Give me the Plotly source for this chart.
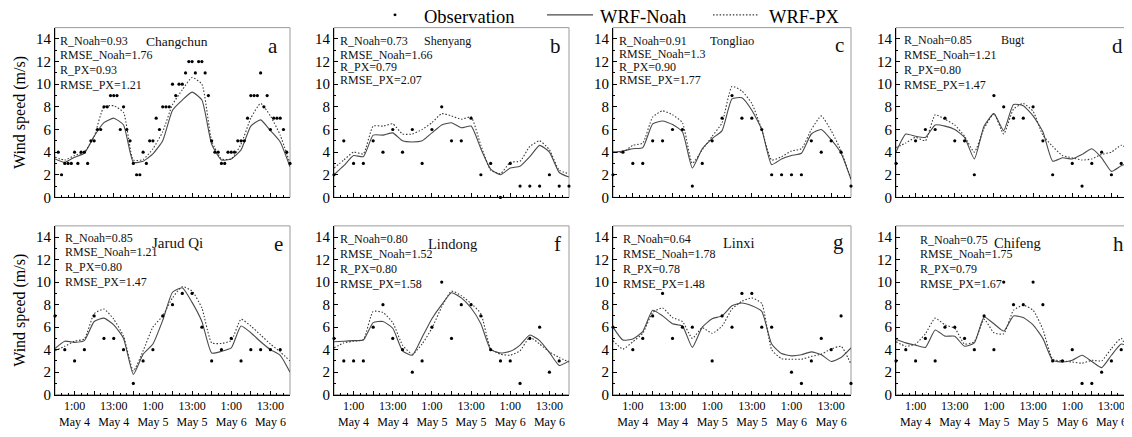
import plotly.graph_objects as go
from plotly.subplots import make_subplots

# ---------------- data ----------------
# hours since 19:00 May 3 (tick "1:00 May 4" = hour 6)
hours_hourly = list(range(0, 73))
hours_3h = list(range(0, 73, 3))
tick_hours = list(range(0, 73, 6))
tick_text = ["", "1:00<br>May 4", "", "13:00<br>May 4", "", "1:00<br>May 5", "",
             "13:00<br>May 5", "", "1:00<br>May 6", "", "13:00<br>May 6", ""]

stations = ["Changchun", "Shenyang", "Tongliao", "Bugt", "Jarud Qi", "Lindong", "Linxi", "Chifeng"]
letters = ["a", "b", "c", "d", "e", "f", "g", "h"]
r_noah = ["0.93", "0.73", "0.91", "0.85", "0.85", "0.80", "0.64", "0.75"]
rmse_noah = ["1.76", "1.66", "1.3", "1.21", "1.21", "1.52", "1.78", "1.75"]
r_px = ["0.93", "0.79", "0.90", "0.80", "0.80", "0.80", "0.78", "0.79"]
rmse_px = ["1.21", "2.07", "1.77", "1.47", "1.47", "1.58", "1.48", "1.67"]

# observations (Changchun hourly, others 3-hourly)
obs_changchun = [None, 4, 2, 3, 3, 3, 4, 3, 4, 4, 3, 5, 5, 6, 6, 8, 8, 9, 9, 9, 6, 8, 6, 5, 3,
                 2, 2, 4, 3, 5, 5, 7, 6, 8, 8, 8, 10, 9, 10, 10, 11, 12, 12, 11, 12, 12, 11, 9, 5,
                 4, 4, 3, 3, 4, 4, 4, 5, 5, 5, 7, 9, 9, 9, 11, 8, 9, 6, 7, 7, 7, 6, 4, 3]
obs_shenyang = [2, 5, 3, 3, 5, 4, 6, 4, 6, 3, 6, 8, 5, 5, 7, 2, 3, 0, 3, 1, 1, 1, 2, 1, 1]
obs_tongliao = [2, 4, 3, 3, 5, 5, 6, 6, 1, 3, 5, 7, 9, 7, 7, 6, 2, 2, 2, 2, 5, 4, 5, 4, 1]
obs_bugt = [3, None, 5, 6, 6, 7, 5, 5, 2, None, 9, 8, 7, 7, 8, 5, 2, None, 3, 1, 3, 4, 2, 3, None]
obs_jarud = [7, 4, 3, 4, 7, 5, 5, 4, 1, 3, 4, 7, 8, 9, 9, 6, 3, 4, 5, 3, 4, 4, 4, 4, None]
obs_lindong = [5, 3, 3, 3, 6, 8, 5, 4, 2, 3, 6, 10, 5, 8, 8, 7, 4, 3, 3, 1, 5, 6, 2, 3, None]
obs_linxi = [6, None, 4, 5, 7, 9, 5, 6, 6, None, 3, 7, 6, 9, 9, 6, 6, None, 2, 1, 3, 5, 4, 7, 1]
obs_chifeng = [3, 4, 3, 5, 3, 6, 6, 5, 4, 7, 4, 10, 8, 8, 10, 8, 3, 3, 4, 1, 1, 2, 3, 4, None]

# WRF-Noah (3-hourly)
noah_changchun = [3.4, 3.1, 3.55, 3.9, 5.4, 6.6, 7.0, 6.4, 3.1, 3.2, 3.85, 5.0, 7.7, 8.6, 9.3, 8.6, 4.7, 3.3, 3.4, 4.2, 6.3, 6.85, 5.9, 4.9, 2.7]
noah_shenyang = [2.0, 2.8, 3.7, 3.6, 5.5, 5.5, 5.7, 5.0, 4.9, 5.0, 5.7, 6.4, 6.6, 6.15, 6.3, 4.3, 2.5, 2.0, 2.6, 2.75, 3.6, 4.6, 4.0, 2.2, 1.8]
noah_tongliao = [4.0, 4.1, 4.3, 4.4, 6.5, 6.75, 6.45, 5.8, 2.6, 4.3, 5.2, 5.9, 8.7, 8.8, 7.7, 6.0, 2.9, 3.4, 3.7, 3.9, 5.6, 6.0, 5.1, 3.9, 1.6]
noah_bugt = [4.0, 5.6, 5.4, 5.3, 6.4, 6.3, 6.0, 5.3, 3.4, 6.3, 7.4, 5.9, 8.2, 8.1, 7.2, 5.8, 3.2, 3.5, 3.4, 3.8, 4.3, 3.5, 2.3, 2.8, 3.1]
noah_jarud = [4.1, 4.75, 4.65, 4.8, 6.5, 6.8, 6.2, 5.0, 1.8, 3.6, 4.5, 6.6, 9.1, 9.5, 8.2, 6.5, 3.7, 3.85, 4.15, 6.1, 5.5, 4.7, 4.0, 3.5, 2.0]
noah_lindong = [4.7, 4.75, 4.8, 4.85, 6.4, 6.5, 5.9, 3.9, 3.5, 5.1, 6.75, 8.0, 9.05, 8.6, 7.7, 6.3, 4.0, 3.7, 3.85, 4.4, 5.3, 4.8, 3.75, 2.6, 3.0]
noah_linxi = [6.0, 4.85, 4.95, 5.6, 7.5, 7.0, 6.3, 6.1, 4.2, 6.0, 6.75, 7.0, 7.9, 8.15, 7.9, 7.4, 4.5, 3.65, 3.45, 3.55, 3.8, 3.55, 2.95, 3.3, 4.15]
noah_chifeng = [4.9, 4.6, 4.4, 4.2, 5.75, 5.2, 5.2, 4.3, 4.6, 6.9, 6.3, 5.65, 7.0, 6.85, 6.2, 5.0, 3.05, 2.9, 3.05, 3.5, 2.95, 2.4, 3.5, 4.5, 4.2]

# WRF-PX (3-hourly)
px_changchun = [3.55, 3.3, 3.7, 4.0, 5.4, 8.0, 8.1, 7.5, 3.3, 3.35, 4.3, 5.8, 8.2, 9.5, 10.6, 10.0, 5.0, 3.4, 3.4, 4.7, 7.0, 8.3, 7.2, 5.5, 3.0]
px_shenyang = [2.6, 3.3, 4.0, 3.85, 6.3, 6.3, 6.5, 5.6, 5.6, 6.0, 6.6, 7.4, 7.2, 6.9, 7.1, 4.6, 2.4, 2.1, 3.1, 3.2, 4.5, 5.0, 4.2, 2.4, 2.1]
px_tongliao = [4.0, 4.0, 4.6, 4.8, 7.1, 7.65, 7.3, 6.6, 3.0, 4.2, 5.4, 6.6, 9.8, 9.4, 8.3, 6.0, 3.3, 3.6, 4.1, 4.3, 6.0, 7.2, 5.9, 4.1, 1.6]
px_bugt = [4.4, 4.8, 5.3, 5.0, 7.3, 6.9, 6.4, 5.4, 4.0, 6.1, 7.4, 5.6, 7.8, 8.3, 7.6, 5.5, 4.5, 3.7, 3.5, 3.3, 3.4, 3.8, 4.0, 4.6, 4.1]
px_jarud = [3.9, 4.3, 4.75, 4.95, 7.2, 7.6, 6.7, 5.2, 2.1, 3.9, 6.0, 7.0, 8.6, 9.6, 9.2, 7.7, 4.6, 4.55, 4.8, 6.7, 6.1, 5.3, 4.5, 3.8, 3.0]
px_lindong = [4.15, 4.6, 4.75, 4.9, 7.4, 7.3, 6.4, 4.4, 3.6, 4.5, 5.9, 7.8, 9.2, 8.8, 8.1, 7.2, 4.1, 3.6, 3.5, 3.9, 5.1, 4.5, 3.8, 3.3, 2.9]
px_linxi = [4.8, 4.05, 4.7, 5.45, 7.3, 7.7, 6.85, 6.5, 5.0, 5.95, 5.45, 6.1, 7.6, 8.3, 8.6, 8.1, 4.0, 3.2, 3.15, 3.15, 3.4, 3.6, 4.05, 4.3, 2.7]
px_chifeng = [4.7, 4.3, 4.5, 5.4, 6.8, 6.2, 5.9, 4.5, 4.7, 6.7, 5.5, 5.4, 7.5, 7.95, 7.5, 5.8, 3.15, 3.0, 2.9, 2.8, 3.05, 3.0, 4.1, 5.0, 3.05]

obs_all = [obs_changchun, obs_shenyang, obs_tongliao, obs_bugt, obs_jarud, obs_lindong, obs_linxi, obs_chifeng]
noah_all = [noah_changchun, noah_shenyang, noah_tongliao, noah_bugt, noah_jarud, noah_lindong, noah_linxi, noah_chifeng]
px_all = [px_changchun, px_shenyang, px_tongliao, px_bugt, px_jarud, px_lindong, px_linxi, px_chifeng]

# ---------------- layout (window pixels) ----------------
OFF = 8                      # default page margin around the plot div
W, H = 1132 - OFF, 437 - OFF
FONT = "Liberation Serif"
NOAH_COLOR = "#4a4a4a"
PX_COLOR = "#3a3a3a"
PX_DASH = "1.5px,1.8px"
col_px = [(55, 290), (334, 569), (613, 851), (896, 1131)]
row_px = [(28, 201), (230, 402)]
stats_x = [58, 338, 617, 902, 63, 338, 621, 918]
stats_y = [[42, 56, 71, 86], [42, 56, 68.5, 81], [42, 55, 68.5, 81], [41, 56, 71, 86.5],
           [242.5, 257, 272, 287], [243.5, 258.5, 273.5, 289], [243.5, 258.5, 273.5, 289], [244, 258.5, 273.5, 289]]
name_pos = [(177, 42, 13.5), (447, 42, 12), (732, 42, 12.5), (1013, 41, 12),
            (177, 247, 15), (452, 248, 14.5), (738, 247, 14.5), (1017, 247, 14.5)]
letter_pos = [(273, 47), (555, 47), (840, 46), (1117, 47), (278, 248), (557, 248), (838, 246), (1118, 248)]


def px(x):
    return (x - OFF) / W


def py(y):
    return 1 - (y - OFF) / H


fig = make_subplots(rows=2, cols=4)
annotations = []
shapes = []

for i in range(8):
    r, c = i // 4 + 1, i % 4 + 1
    x0, x1 = col_px[c - 1]
    y0, y1 = row_px[r - 1]
    obs_x = hours_hourly if i == 0 else hours_3h
    fig.add_trace(go.Scatter(x=hours_3h, y=noah_all[i], mode="lines", name="WRF-Noah",
                             line=dict(color=NOAH_COLOR, width=1.1, shape="spline", smoothing=0.5),
                             showlegend=False), row=r, col=c)
    fig.add_trace(go.Scatter(x=hours_3h, y=px_all[i], mode="lines", name="WRF-PX",
                             line=dict(color=PX_COLOR, width=1.1, dash=PX_DASH, shape="spline", smoothing=0.5),
                             showlegend=False), row=r, col=c)
    fig.add_trace(go.Scatter(x=obs_x, y=obs_all[i], mode="markers", name="Observation",
                             marker=dict(color="black", size=3.2), cliponaxis=False,
                             showlegend=False), row=r, col=c)

    fig.update_xaxes(domain=[px(x0), px(x1)], range=[0, 72], tickvals=tick_hours,
                     ticktext=tick_text, showticklabels=(r == 2),
                     ticks="inside", ticklen=4, tickcolor="black", tickwidth=1,
                     minor=dict(ticks="inside", ticklen=2, dtick=2, tick0=0, tickcolor="black"),
                     showgrid=False, zeroline=False, showline=True, linecolor="black", linewidth=1,
                     tickfont=dict(family=FONT, size=12, color="black"), row=r, col=c)
    fig.update_yaxes(domain=[py(y1), py(y0)], range=[0, 15], tickvals=list(range(0, 15, 2)),
                     ticks="inside", ticklen=4, tickcolor="black", tickwidth=1,
                     minor=dict(ticks="inside", ticklen=2, dtick=1, tick0=0, tickcolor="black"),
                     showgrid=False, zeroline=False, showline=True, linecolor="black", linewidth=1,
                     tickfont=dict(family=FONT, size=15, color="black"),
                     title=dict(text="Wind speed (m/s)" if c == 1 else "",
                                font=dict(family=FONT, size=16, color="black"), standoff=6),
                     row=r, col=c)

    n = "" if i == 0 else str(i + 1)
    shapes.append(dict(type="rect", xref=f"x{n} domain", yref=f"y{n} domain", x0=0, x1=1, y0=0, y1=1,
                       line=dict(color="#9a9a9a", width=1), layer="below"))

    labels = [f"R_Noah={r_noah[i]}", f"RMSE_Noah={rmse_noah[i]}", f"R_PX={r_px[i]}", f"RMSE_PX={rmse_px[i]}"]
    for t, yy in zip(labels, stats_y[i]):
        annotations.append(dict(text=t, x=px(stats_x[i]), y=py(yy), xref="paper", yref="paper",
                                xanchor="left", yanchor="middle", showarrow=False,
                                font=dict(family=FONT, size=12, color="#111")))
    nx, ny, ns = name_pos[i]
    annotations.append(dict(text=stations[i], x=px(nx), y=py(ny), xref="paper", yref="paper",
                            xanchor="center", yanchor="middle", showarrow=False,
                            font=dict(family=FONT, size=ns, color="#111")))
    lx, ly = letter_pos[i]
    annotations.append(dict(text=letters[i], x=px(lx), y=py(ly), xref="paper", yref="paper",
                            xanchor="center", yanchor="middle", showarrow=False,
                            font=dict(family=FONT, size=21, color="#111")))

# legend (drawn manually to match the original placement)
leg_text_y = 17
leg_y = 15
for t, x in [("Observation", 422), ("WRF-Noah", 598), ("WRF-PX", 767)]:
    annotations.append(dict(text=t, x=px(x), y=py(leg_text_y), xref="paper", yref="paper",
                            xanchor="left", yanchor="middle", showarrow=False,
                            font=dict(family=FONT, size=18.5, color="black")))
shapes += [
    dict(type="circle", xref="paper", yref="paper", x0=px(393.5), x1=px(396.5), y0=py(leg_y + 1.5),
         y1=py(leg_y - 1.5), fillcolor="black", line=dict(width=0)),
    dict(type="line", xref="paper", yref="paper", x0=px(547), x1=px(593), y0=py(leg_y), y1=py(leg_y),
         line=dict(color=NOAH_COLOR, width=1.1)),
    dict(type="line", xref="paper", yref="paper", x0=px(713), x1=px(758), y0=py(leg_y), y1=py(leg_y),
         line=dict(color=PX_COLOR, width=1.1, dash=PX_DASH)),
]

fig.update_layout(width=W, height=H, margin=dict(l=0, r=0, t=0, b=0),
                  paper_bgcolor="white", plot_bgcolor="white",
                  annotations=annotations, shapes=shapes, showlegend=False,
                  font=dict(family=FONT, color="black"))

fig.write_html("out.html")
